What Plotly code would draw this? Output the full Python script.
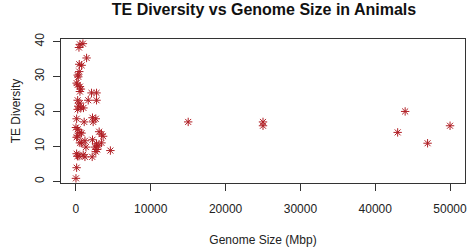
import plotly.graph_objects as go

# Genome size (Mbp) and TE diversity
genome_size = [530, 930, 400, 1420, 440, 760, 440, 230, 310,
               90, 230, 530, 660, 530, 2080, 2750, 1640, 2750,
               230, 530, 310, 660, 1000, 230, 90, 1100, 2210, 2650, 2300,
               0, 230, 530, 750, 230, 90, 3100, 3410, 3630, 2210,
               530, 1200, 2750, 2970, 2520, 2830, 2650, 3410, 4600, 1330,
               90, 200, 970, 1200, 2170, 400, 760, 90, 0,
               15000, 25000, 25000, 44000, 43000, 47000, 50000]
te_diversity = [39.2, 39.4, 38.3, 35.3, 33.5, 33.2, 31.4, 30.4, 29.9,
                28.1, 27.6, 27.1, 26.4, 25.7, 25.3, 25.3, 23.2, 23.2,
                23.2, 22.4, 21.5, 21.0, 21.0, 20.6, 17.9, 17.0, 18.2, 17.9, 17.0,
                15.4, 14.9, 14.0, 13.8, 13.0, 12.6, 14.2, 13.5, 12.9, 11.9,
                11.0, 11.6, 10.7, 10.2, 9.8, 9.1, 8.5, 11.0, 8.8, 9.8,
                7.9, 7.2, 7.6, 7.0, 7.0, 7.2, 11.0, 3.9, 0.85,
                17.0, 17.0, 15.9, 20.0, 14.0, 10.9, 15.9]

x_ticks = [0, 10000, 20000, 30000, 40000, 50000]
y_ticks = [0, 10, 20, 30, 40]

FONT = "Liberation Sans, Arial, sans-serif"

fig = go.Figure(go.Scatter(
    x=genome_size, y=te_diversity, mode="markers",
    marker=dict(symbol="asterisk-open", size=7, color="#b01e24",
                line=dict(color="#b01e24", width=1)),
    showlegend=False,
))

fig.update_layout(
    width=472, height=250,
    margin=dict(l=61, r=5, t=39, b=65),
    paper_bgcolor="white", plot_bgcolor="white",
    font=dict(family=FONT, size=12, color="#222"),
    title=dict(text="<b>TE Diversity vs Genome Size in Animals</b>",
               x=264 / 472, xanchor="center", y=1 - 9 / 250, yanchor="middle",
               font=dict(size=16, color="#111")),
)
fig.update_xaxes(
    range=[-2000, 52000], tickvals=x_ticks, ticktext=[str(v) for v in x_ticks],
    showgrid=False, zeroline=False, showline=True, mirror=True,
    linecolor="#333", linewidth=1, ticks="outside", ticklen=7, tickcolor="#333",
    tickfont=dict(size=12), ticklabelstandoff=8,
    title=dict(text="Genome Size (Mbp)", font=dict(size=12), standoff=20),
)
fig.update_yaxes(
    range=[-0.48, 40.73], tickvals=y_ticks, ticktext=[str(v) for v in y_ticks],
    showgrid=False, zeroline=False, showline=True, mirror=True,
    linecolor="#333", linewidth=1, ticks="outside", ticklen=7, tickcolor="#333",
    tickfont=dict(size=12), tickangle=-90, ticklabelstandoff=4,
    title=dict(text="TE Diversity", font=dict(size=12), standoff=10),
)

fig.write_html("out.html", config={"displayModeBar": False},
               post_script="document.body.style.margin='0';")
